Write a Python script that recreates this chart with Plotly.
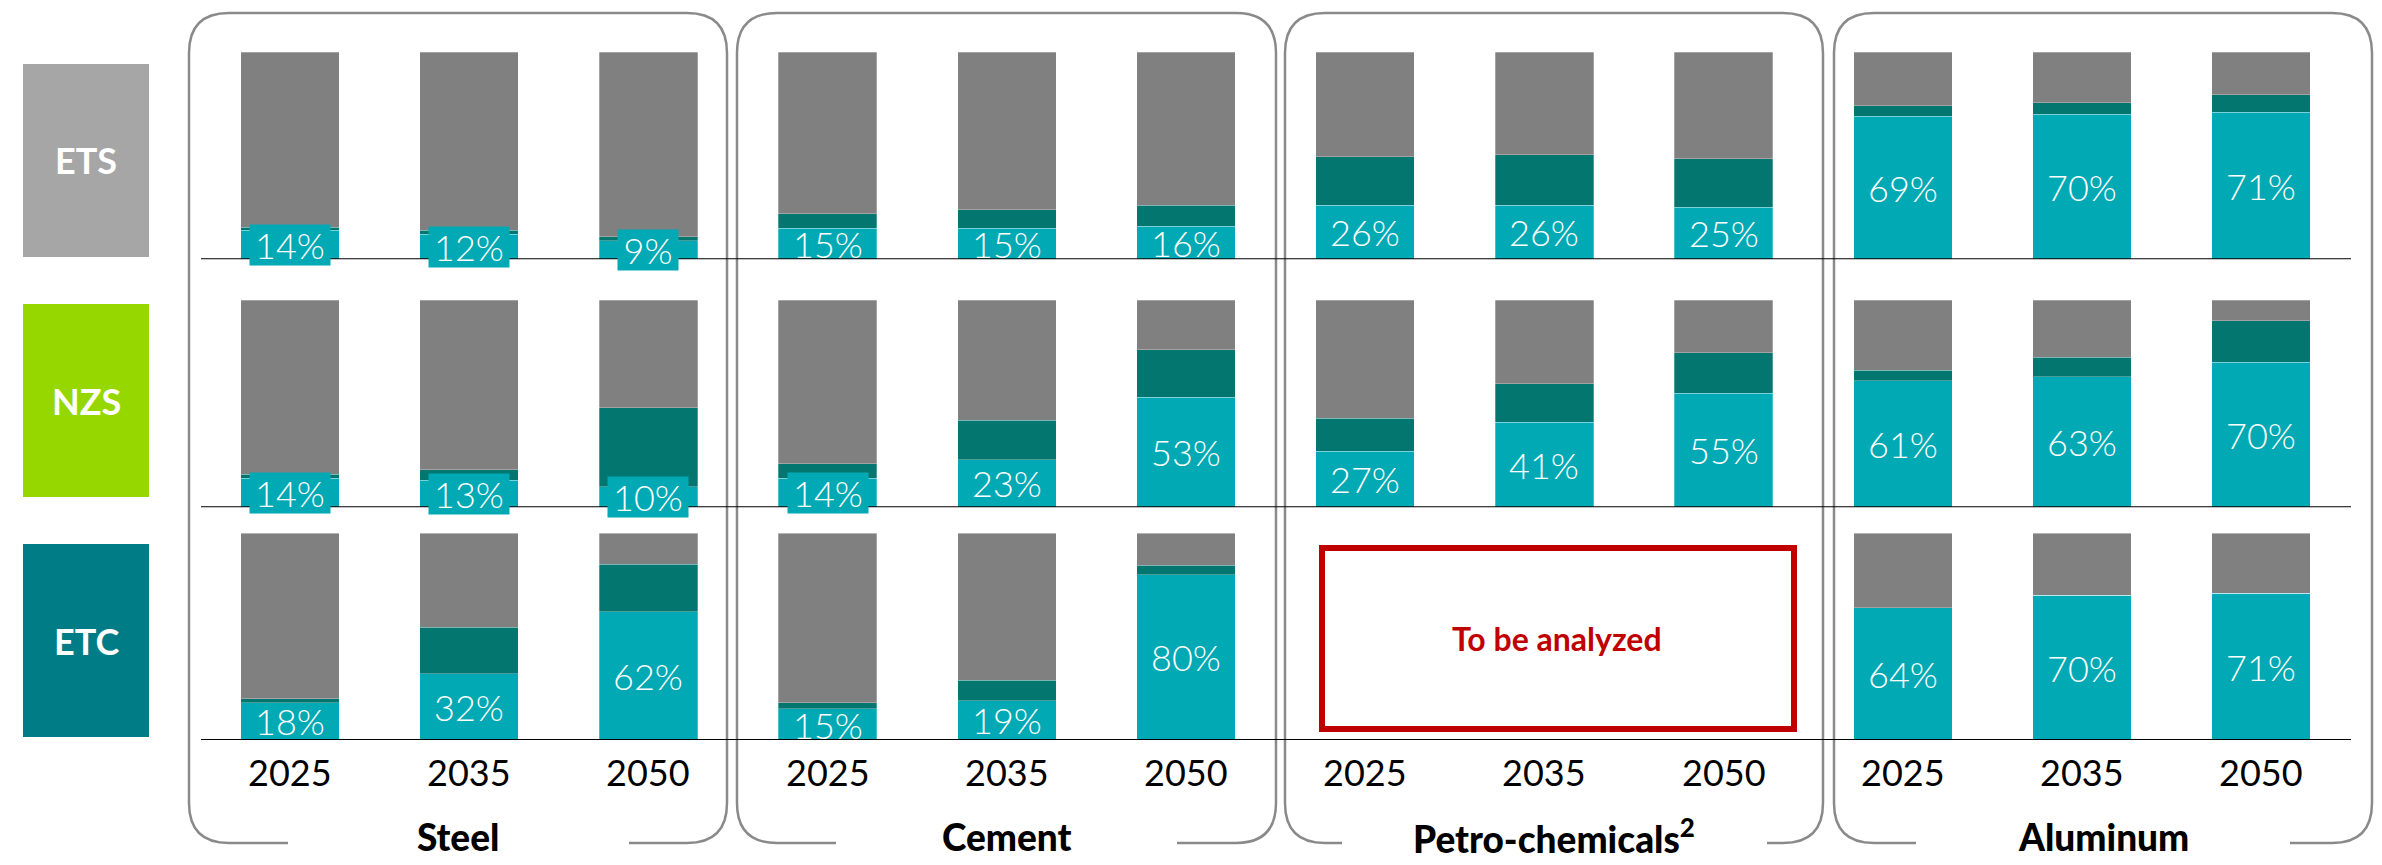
import plotly.graph_objects as go

W, H = 2382, 865

# ---- data -------------------------------------------------------------
sectors = ["Steel", "Cement", "Petro-chemicals<sup>2</sup>", "Aluminum"]
years = ["2025", "2035", "2050"]
scenarios = ["ETS", "NZS", "ETC"]

# Labelled share (light teal), middle segment (dark teal), remainder (grey), in %
# order: Steel 2025/2035/2050, Cement ..., Petro-chemicals ..., Aluminum ...
ets_share = [14, 12, 9, 15, 15, 16, 26, 26, 25, 69, 70, 71]
ets_mid = [1.5, 2, 2, 7, 9, 10, 23.5, 24.5, 23.5, 5, 5.5, 8.5]
ets_rest = [84.5, 86, 89, 78, 76, 74, 50.5, 49.5, 51.5, 26, 24.5, 20.5]

nzs_share = [14, 13, 10, 14, 23, 53, 27, 41, 55, 61, 63, 70]
nzs_mid = [2, 5, 38, 7, 19, 23, 16, 18.5, 19.5, 5, 9.5, 20]
nzs_rest = [84, 82, 52, 79, 58, 24, 57, 40.5, 25.5, 34, 27.5, 10]

etc_share = [18, 32, 62, 15, 19, 80, None, None, None, 64, 70, 71]
etc_mid = [2, 22.5, 23, 3, 10, 4.5, None, None, None, 0, 0, 0]
etc_rest = [80, 45.5, 15, 82, 71, 15.5, None, None, None, 36, 30, 29]

pending_text = "To be analyzed"

# ---- styling ----------------------------------------------------------
C_TEAL = "#00A9B4"
C_DARK = "#037670"
C_GREY = "#808080"
C_FRAME = "#8A8A8A"
C_RED = "#C00000"
LABEL_FONT = "Lato"

# layout geometry in pixels
X0_PX = 290.0          # centre of the first bar
X_STEP_PX = 179.2      # distance between bar centres
BAR_W = 0.55

rows = [
    dict(name=scenarios[0], share=ets_share, mid=ets_mid, rest=ets_rest,
         top=52.0, base=259.3, box=(64, 257), box_color="#A6A6A6"),
    dict(name=scenarios[1], share=nzs_share, mid=nzs_mid, rest=nzs_rest,
         top=300.0, base=507.3, box=(304, 497), box_color="#97D700"),
    dict(name=scenarios[2], share=etc_share, mid=etc_mid, rest=etc_rest,
         top=533.3, base=740.0, box=(544, 737), box_color="#007C87"),
]

panels = [  # left, right, gap-left, gap-right (bottom edge opening for title)
    (189, 727, 288, 629),
    (737, 1276, 836, 1177),
    (1285, 1823, 1342, 1767),
    (1834, 2372, 1916, 2290),
]
PANEL_TOP, PANEL_BOTTOM, RADIUS = 13, 843, 40


def px(xp):
    return xp / W


def py(yp):
    return 1 - yp / H


n_bars = len(sectors) * len(years)
xs = list(range(n_bars))

fig = go.Figure()
layout_axes = {}
annotations = []
shapes = []

for r, row in enumerate(rows):
    yname = "y" if r == 0 else f"y{r + 1}"
    axkey = "yaxis" if r == 0 else f"yaxis{r + 1}"
    layout_axes[axkey] = dict(
        domain=[py(row["base"]), py(row["top"])],
        range=[0, 100], visible=False, fixedrange=True,
    )
    for vals, col in ((row["share"], C_TEAL), (row["mid"], C_DARK), (row["rest"], C_GREY)):
        fig.add_trace(go.Bar(
            x=xs, y=vals, xaxis="x", yaxis=yname, width=BAR_W,
            marker=dict(color=col, line=dict(width=0.8, color="rgba(255,255,255,0.35)")),
            showlegend=False, hoverinfo="skip",
        ))
    # value labels centred on the light-teal segment
    for i, v in enumerate(row["share"]):
        if v is None:
            continue
        txt = f"{v}%"
        ann = dict(
            x=xs[i], xref="x", y=v / 2, yref=yname, text=txt, showarrow=False,
            font=dict(family=LABEL_FONT, size=36, color="white", weight=300),
            xanchor="center", yanchor="middle",
        )
        if v < 15:
            ann.update(bgcolor=C_TEAL, width=20 * len(txt) + 20, height=40, borderpad=0)
        annotations.append(ann)
    # baseline
    shapes.append(dict(type="line", xref="paper", yref=yname,
                       x0=px(201), x1=px(2351), y0=0, y1=0,
                       line=dict(color="black", width=2)))
    # scenario tag on the left
    y_a, y_b = row["box"]
    shapes.append(dict(type="rect", xref="paper", yref="paper",
                       x0=px(23), x1=px(149), y0=py(y_b), y1=py(y_a),
                       fillcolor=row["box_color"], line=dict(width=0), layer="below"))
    annotations.append(dict(x=px(86), y=py((y_a + y_b) / 2), xref="paper", yref="paper",
                            text=row["name"], showarrow=False,
                            font=dict(family=LABEL_FONT, size=36, color="white", weight="bold"),
                            xanchor="center", yanchor="middle"))

# year labels under each bar
for i in xs:
    annotations.append(dict(x=i, xref="x", y=py(772), yref="paper",
                            text=years[i % len(years)], showarrow=False,
                            font=dict(family=LABEL_FONT, size=36, color="black", weight=400),
                            xanchor="center", yanchor="middle"))

# sector frames with an opening in the bottom edge for the title
for (l, rgt, gl, gr), name in zip(panels, sectors):
    t, b, rr = PANEL_TOP, PANEL_BOTTOM, RADIUS
    pts = [
        ("M", gl, b), ("L", l + rr, b), ("Q", l, b, l, b - rr), ("L", l, t + rr),
        ("Q", l, t, l + rr, t), ("L", rgt - rr, t), ("Q", rgt, t, rgt, t + rr),
        ("L", rgt, b - rr), ("Q", rgt, b, rgt - rr, b), ("L", gr, b),
    ]
    parts = []
    for p in pts:
        cmd, coords = p[0], p[1:]
        xy = [f"{px(coords[k]):.5f},{py(coords[k + 1]):.5f}" for k in range(0, len(coords), 2)]
        parts.append(cmd + " " + " ".join(xy))
    shapes.append(dict(type="path", xref="paper", yref="paper", path=" ".join(parts),
                       line=dict(color=C_FRAME, width=2.5), layer="below"))
    annotations.append(dict(x=px((l + rgt) / 2), y=py(836), xref="paper", yref="paper",
                            text=name, showarrow=False,
                            font=dict(family=LABEL_FONT, size=37, color="black", weight=900),
                            xanchor="center", yanchor="middle"))

# placeholder for the sector without ETC results
shapes.append(dict(type="rect", xref="paper", yref="paper",
                   x0=px(1322), x1=px(1794), y0=py(729), y1=py(548),
                   line=dict(color=C_RED, width=6), fillcolor="rgba(0,0,0,0)"))
annotations.append(dict(x=px(1557), y=py(638), xref="paper", yref="paper",
                        text=pending_text, showarrow=False,
                        font=dict(family=LABEL_FONT, size=32, color=C_RED, weight="bold"),
                        xanchor="center", yanchor="middle"))

fig.update_layout(
    width=W, height=H,
    margin=dict(l=0, r=0, t=0, b=0),
    paper_bgcolor="white", plot_bgcolor="rgba(0,0,0,0)",
    barmode="stack",
    xaxis=dict(domain=[0, 1], range=[-X0_PX / X_STEP_PX, (W - X0_PX) / X_STEP_PX],
               visible=False, fixedrange=True, anchor="y3"),
    shapes=shapes, annotations=annotations,
    **layout_axes,
)

fig.write_html("out.html")
